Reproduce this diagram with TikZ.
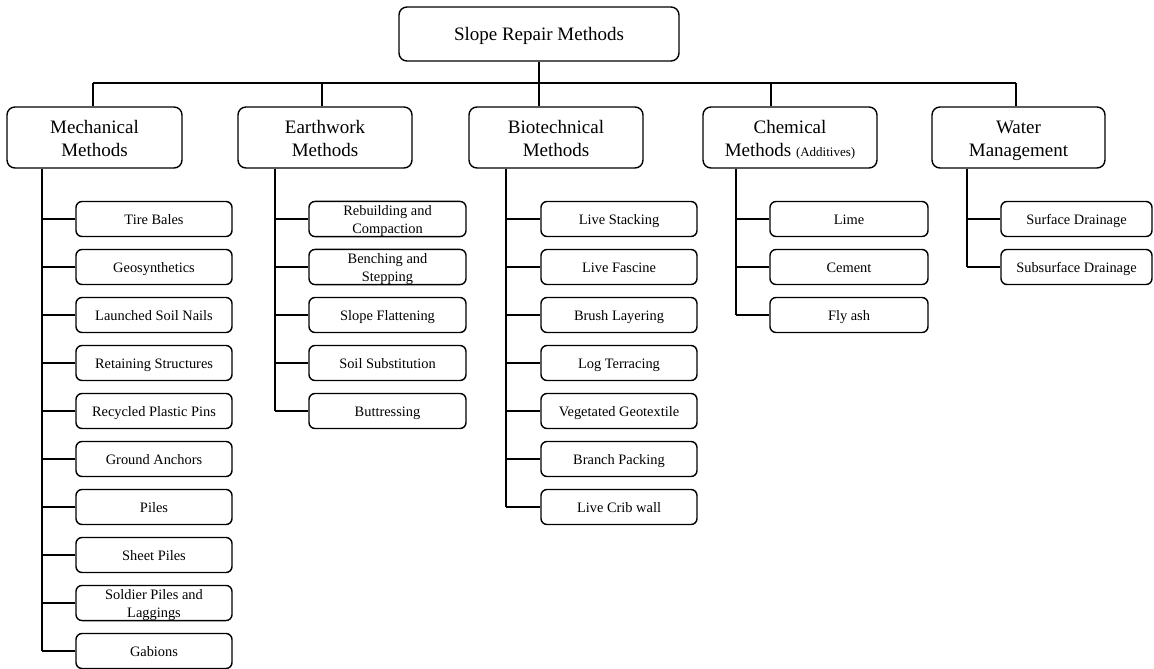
\documentclass[tikz,border=0pt]{standalone}
\usepackage{fontspec}
\setmainfont{Liberation Serif}
\begin{document}
\begin{tikzpicture}[x=1pt,y=-1pt,
  box/.style={draw=black,line width=1.4pt,rounded corners=8pt,inner sep=0pt,align=center,
    font=\fontsize{19}{23}\selectfont,text=black},
  catbox/.style={box,minimum width=174pt,minimum height=61pt},
  kid/.style={draw=black,line width=1.4pt,rounded corners=6pt,inner sep=0pt,align=center,
    minimum width=156pt,minimum height=35pt,font=\fontsize{14.4}{18}\selectfont,text=black},
  link/.style={draw=black,line width=1.3pt}]
\useasboundingbox (0,0) rectangle (1154,669);
% root
\node[box,minimum width=280pt,minimum height=54pt,text depth=0pt] (root) at (539,34) {Slope Repair Methods};
% categories
\node[catbox,minimum width=175pt] (mech) at (94.5,137.5) {\rule{0pt}{20pt}Mechanical\\Methods\vphantom{g}};
\node[catbox] (earth) at (325,137.5) {\rule{0pt}{20pt}Earthwork\\Methods\vphantom{g}};
\node[catbox] (bio) at (556,137.5) {\rule{0pt}{20pt}Biotechnical\\Methods\vphantom{g}};
\node[catbox] (chem) at (790,137.5) {\rule{0pt}{20pt}Chemical\\Methods {\fontsize{13}{15}\selectfont(Additives)}\vphantom{g}};
\node[catbox,minimum width=173pt] (water) at (1018.5,137.5) {\rule{0pt}{20pt}Water\\Management\vphantom{g}};
% top bar
\coordinate (barL) at (93,83);
\coordinate (barR) at (1016,83);
\coordinate (dE) at (322,83);
\coordinate (dC) at (771,83);
\draw[link] (barL) -- (barR);
\draw[link] (root.south) -- (root.south |- bio.north);
\draw[link] (barL) -- (barL |- mech.north);
\draw[link] (dE) -- (dE |- earth.north);
\draw[link] (dC) -- (dC |- chem.north);
\draw[link] (barR) -- (barR |- water.north);
% trunks x
\coordinate (tM) at (42,0);
\coordinate (tE) at (275,0);
\coordinate (tB) at (506,0);
\coordinate (tC) at (736,0);
\coordinate (tW) at (967,0);
% Mechanical children
\foreach \t [count=\i] in {{Tire Bales},{Geosynthetics},{Launched Soil Nails},{Retaining Structures},{Recycled Plastic Pins},{Ground Anchors},{Piles},{Sheet Piles},{Soldier Piles and\\Laggings},{Gabions}}{
  \node[kid] (m\i) at (154,{219+48*(\i-1)}) {\rule{0pt}{14pt}\t\vphantom{g}};
  \draw[link] (tM |- m\i.west) -- (m\i.west);
}
\draw[link] (tM |- mech.south) -- (tM |- m10.west);
% Earthwork children
\foreach \t [count=\i] in {{Rebuilding and\\Compaction},{Benching and\\Stepping},{Slope Flattening},{Soil Substitution},{Buttressing}}{
  \node[kid,minimum width=157pt] (e\i) at (387.5,{219+48*(\i-1)}) {\rule{0pt}{14pt}\t\vphantom{g}};
  \draw[link] (tE |- e\i.west) -- (e\i.west);
}
\draw[link] (tE |- earth.south) -- (tE |- e5.west);
% Biotechnical children
\foreach \t [count=\i] in {{Live Stacking},{Live Fascine},{Brush Layering},{Log Terracing},{Vegetated Geotextile},{Branch Packing},{Live Crib wall}}{
  \node[kid] (b\i) at (619,{219+48*(\i-1)}) {\rule{0pt}{14pt}\t\vphantom{g}};
  \draw[link] (tB |- b\i.west) -- (b\i.west);
}
\draw[link] (tB |- bio.south) -- (tB |- b7.west);
% Chemical children
\foreach \t [count=\i] in {{Lime},{Cement},{Fly ash}}{
  \node[kid,minimum width=158pt] (c\i) at (849,{219+48*(\i-1)}) {\rule{0pt}{14pt}\t\vphantom{g}};
  \draw[link] (tC |- c\i.west) -- (c\i.west);
}
\draw[link] (tC |- chem.south) -- (tC |- c3.west);
% Water children
\foreach \t [count=\i] in {{Surface Drainage},{Subsurface Drainage}}{
  \node[kid,minimum width=151pt] (w\i) at (1076.5,{219+48*(\i-1)}) {\rule{0pt}{14pt}\t\vphantom{g}};
  \draw[link] (tW |- w\i.west) -- (w\i.west);
}
\draw[link] (tW |- water.south) -- (tW |- w2.west);
\end{tikzpicture}
\end{document}
